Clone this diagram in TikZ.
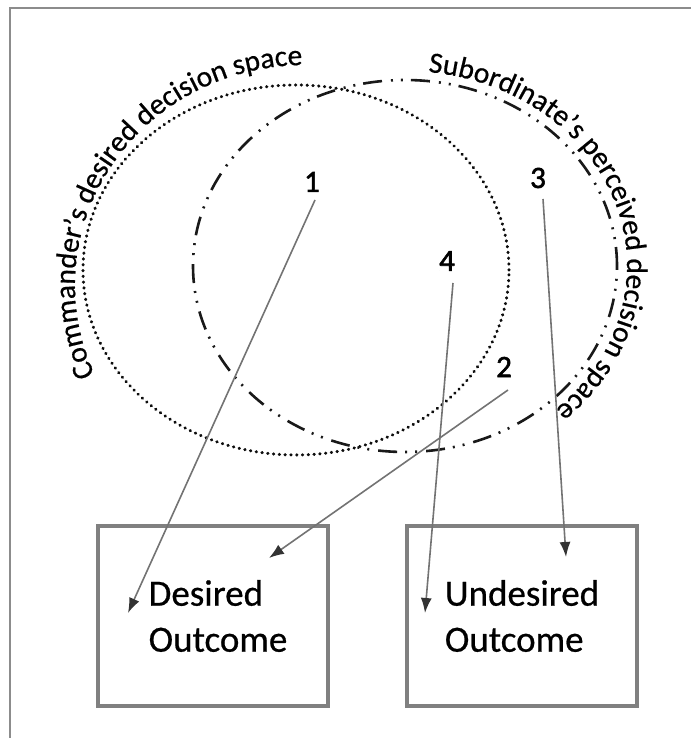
\documentclass[tikz,border=0pt]{standalone}
\usepackage{fontspec}
\setmainfont{Carlito}[RawFeature={embolden=0.6}]
\newfontfamily\numfont{Carlito}[RawFeature={embolden=1.8}]
\usetikzlibrary{decorations.text, arrows.meta}
\begin{document}
\begin{tikzpicture}[x=1pt,y=1pt,
  frameline/.style={draw=black!45, line width=1.8pt},
  cmdspace/.style={draw=black!95, line width=3.1pt, line cap=round, dash pattern=on 0.4pt off 5.4pt},
  subspace/.style={draw=black!90, line width=2.6pt, dash pattern=on 19pt off 8pt on 2pt off 8pt on 2pt off 9pt},
  outbox/.style={draw=black!50, line width=4pt, minimum width=230pt, minimum height=180pt, inner sep=0pt, align=left, font=\fontsize{37}{46}\selectfont},
  num/.style={font=\numfont\fontsize{31}{31}\selectfont, inner sep=1pt},
  link/.style={draw=black!55, line width=1.6pt, -{Latex[length=15pt,width=11pt,color=black!80]}},
  arctext/.style={decorate, decoration={text along path, text align=left, text={|\fontsize{29.5}{29.5}\selectfont|#1}}}
]
\useasboundingbox (0,0) rectangle (691,738);
\draw[frameline] (10,0) -- (10,730) -- (691,730);
% decision spaces
\draw[cmdspace] (296,468) ellipse[x radius=213, y radius=185];
\draw[subspace] (405,472) ellipse[x radius=212, y radius=186];
% curved labels
\path[arctext={Commander’s desired decision space}] (305,453) ++(204:230 and 220) arc[start angle=204, end angle=60, x radius=230, y radius=220];
\path[arctext={Subordinate’s perceived decision space}] (405,472) ++(84:222 and 195) arc[start angle=84, end angle=-70, x radius=222, y radius=195];
% outcome boxes
\node[outbox] (desired) at (213,122) {\hspace*{10pt}Desired\\\hspace*{10pt}Outcome};
\node[outbox] (undesired) at (522,122) {Undesired\\Outcome};
% numbers
\node[num] (n1) at (312,556) {1};
\node[num] (n2) at (504,371) {2};
\node[num] (n3) at (538,560) {3};
\node[num] (n4) at (447,477) {4};
% arrow ends
\coordinate (s1) at (315,538);
\coordinate (s2) at (508,348);
\coordinate (s3) at (543,539);
\coordinate (s4) at (453,455);
\coordinate (t1) at (128,125);
\coordinate (t2) at (269,180);
\coordinate (t3) at (566,181);
\coordinate (t4) at (425,125);
\draw[link] (s1) -- (t1);
\draw[link] (s2) -- (t2);
\draw[link] (s3) -- (t3);
\draw[link] (s4) -- (t4);
\end{tikzpicture}
\end{document}
